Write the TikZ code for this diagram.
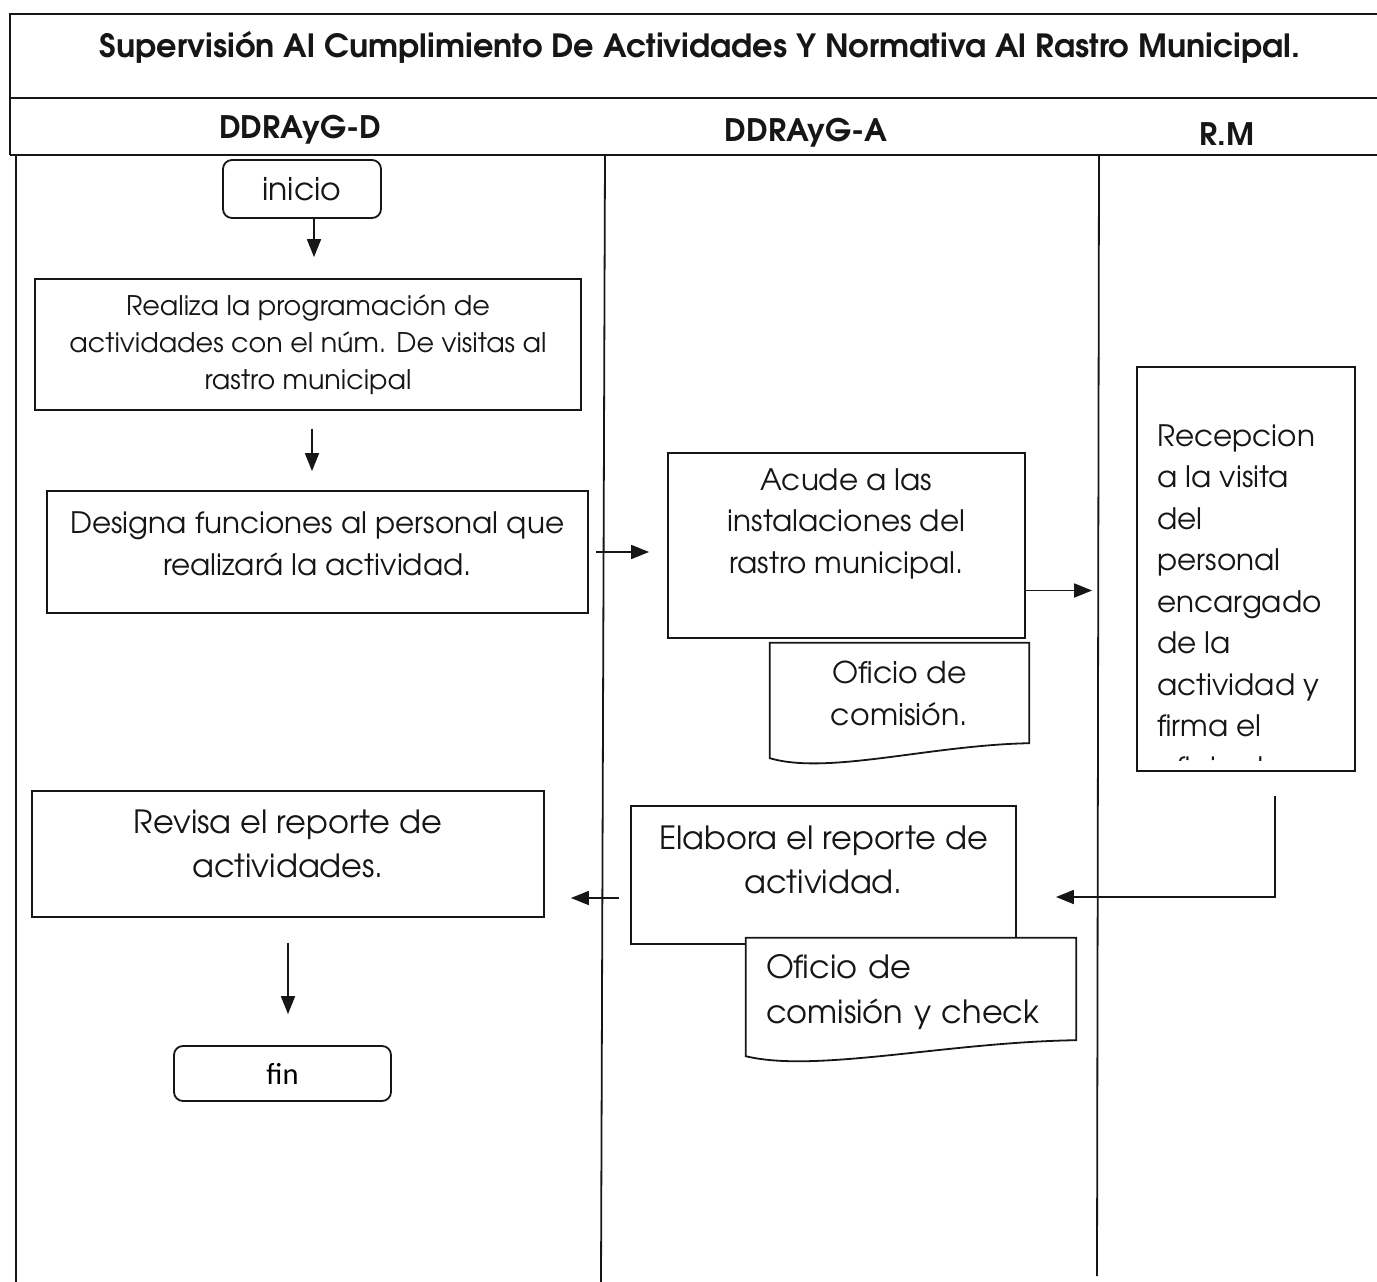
\documentclass[tikz,border=0pt]{standalone}
\usepackage{fontspec}
\usepackage{xcolor}
\usepackage{tikz}
\usetikzlibrary{arrows.meta, calc}
\newfontfamily\gothic[Extension=.otf, UprightFont=*-regular, BoldFont=*-bold]{texgyreadventor}
\newfontfamily\calib{Carlito}
\definecolor{FlowBlack}{RGB}{22, 22, 22}

\tikzset{
  lane/.style={draw=FlowBlack, line width=1.8pt},
  procbox/.style={draw=FlowBlack, line width=1.8pt, inner sep=0pt},
  termbox/.style={procbox, rounded corners=9pt},
  docline/.style={draw=FlowBlack, fill=white, line width=1.8pt},
  flecha/.style={draw=FlowBlack, line width=1.8pt, -{Triangle[length=18pt, width=14pt]}},
  txt/.style={inner sep=0pt, align=center, text=FlowBlack, font=\gothic\fontsize{29.5}{41.5}\selectfont},
  hdr/.style={inner sep=0pt, text=FlowBlack, font=\gothic\bfseries\fontsize{31}{34}\selectfont}
}

\begin{document}
\begin{tikzpicture}[x=1pt, y=-1pt]
  \useasboundingbox (0,0) rectangle (1377,1282);

  % marco y encabezados
  \draw[lane] (1377,14) -- (10,14) -- (10,155);
  \draw[lane] (10,98) -- (1377,98);
  \draw[lane] (10,155) -- (1377,155);
  \node[hdr, font=\gothic\bfseries\fontsize{32}{36}\selectfont] (titulo) at (700,47)
    {Supervisión Al Cumplimiento De Actividades Y Normativa Al Rastro Municipal.};
  \node[hdr] (hdrD) at (300,130) {DDRAyG-D};
  \node[hdr] (hdrA) at (806,133) {DDRAyG-A};
  \node[hdr] (hdrR) at (1227,134) {R.M};

  % carriles
  \draw[lane] (16,155) -- (16,1282);
  \draw[lane] (605,155) -- (601,1282);
  \draw[lane] (1099,155) -- (1097,1276);

  % DDRAyG-D
  \node[termbox, minimum width=158pt, minimum height=58pt, txt, font=\gothic\fontsize{31.5}{34}\selectfont] (inicio) at (302,189) {inicio};
  \node[procbox, minimum width=546pt, minimum height=131pt, txt, font=\gothic\fontsize{27}{37}\selectfont] (prog) at (308,344.5)
    {Realiza la programación de\\actividades con el núm. De visitas al\\rastro municipal};
  \node[procbox, minimum width=541pt, minimum height=122pt] (designa) at (317.5,552) {};
  \node[txt, font=\gothic\fontsize{29.5}{42}\selectfont] (designatxt) at ([yshift=8pt]designa.center) {Designa funciones al personal que\\realizará la actividad.};
  \node[procbox, minimum width=512pt, minimum height=126pt] (revisa) at (288,854) {};
  \node[txt, font=\gothic\fontsize{32}{44}\selectfont] (revisatxt) at ([yshift=10pt]revisa.center) {Revisa el reporte de\\actividades.};
  \node[termbox, minimum width=217pt, minimum height=55pt, font=\calib\fontsize{30.5}{32}\selectfont] (fin) at (282.5,1073.5) {fin};

  % DDRAyG-A
  \node[procbox, minimum width=357pt, minimum height=185pt] (acude) at (846.5,545.5) {};
  \node[txt] (acudetxt) at ([yshift=22pt]acude.center) {Acude a las\\instalaciones del\\rastro municipal.};
  \node[txt, minimum width=259pt, minimum height=100pt] (ofi1) at (899.5,693) {};
  \draw[docline] (ofi1.north west) -- (ofi1.north east) -- (ofi1.south east)
    .. controls +(-100,2) and +(58,17) .. ($(ofi1.south west)+(0,15)$) -- cycle;
  \node[txt, font=\gothic\fontsize{30}{42}\selectfont] (ofi1txt) at (ofi1.center) {Oficio de\\comisión.};
  \node[procbox, minimum width=385pt, minimum height=138pt] (elabora) at (823.5,875) {};
  \node[txt, font=\gothic\fontsize{32}{44}\selectfont] (elaboratxt) at ([yshift=15pt]elabora.center) {Elabora el reporte de\\actividad.};
  \node[txt, minimum width=330pt, minimum height=102pt] (ofi2) at (911,989) {};
  \draw[docline] (ofi2.north west) -- (ofi2.north east) -- (ofi2.south east)
    .. controls +(-130,2) and +(70,17) .. ($(ofi2.south west)+(0,16)$) -- cycle;
  \node[txt, align=left, text width=290pt, font=\gothic\fontsize{32}{45}\selectfont] (ofi2txt) at ([yshift=-3pt]ofi2.center) {Oficio de\\comisión y check};

  % R.M
  \node[procbox, minimum width=218pt, minimum height=404pt] (recep) at (1246,569) {};
  \begin{scope}
    \clip (recep.north west) rectangle ([yshift=11pt]recep.south east);
    \node[txt, align=left, anchor=north west] (receptxt) at ([xshift=21pt, yshift=-58pt]recep.north west)
      {Recepcion\\a la visita\\del\\personal\\encargado\\de la\\actividad y\\firma el\\oficio de};
  \end{scope}

  % conectores
  \draw[flecha, shorten >=21pt] ([xshift=12pt]inicio.south) -- ([xshift=12pt]inicio.south |- prog.north);
  \draw[flecha, shorten <=18pt, shorten >=19pt] ([xshift=4pt]prog.south) -- ([xshift=4pt]prog.south |- designa.north);
  \draw[flecha, shorten <=7pt, shorten >=18pt] (designa.east) -- (designa.east -| acude.west);
  \draw[flecha, shorten >=44pt] ([yshift=-45pt]acude.east) -- ([yshift=-45pt]acude.east -| recep.west);
  \draw[flecha, shorten <=24pt, shorten >=39pt] ([xshift=29pt]recep.south) |- ([yshift=-22pt]elabora.east);
  \draw[flecha, shorten <=11pt, shorten >=26pt] ([yshift=-23pt]elabora.west) -- ([yshift=-23pt]elabora.west -| revisa.east);
  \draw[flecha, shorten <=25pt, shorten >=31pt] (revisa.south) -- (revisa.south |- fin.north);
\end{tikzpicture}
\end{document}
